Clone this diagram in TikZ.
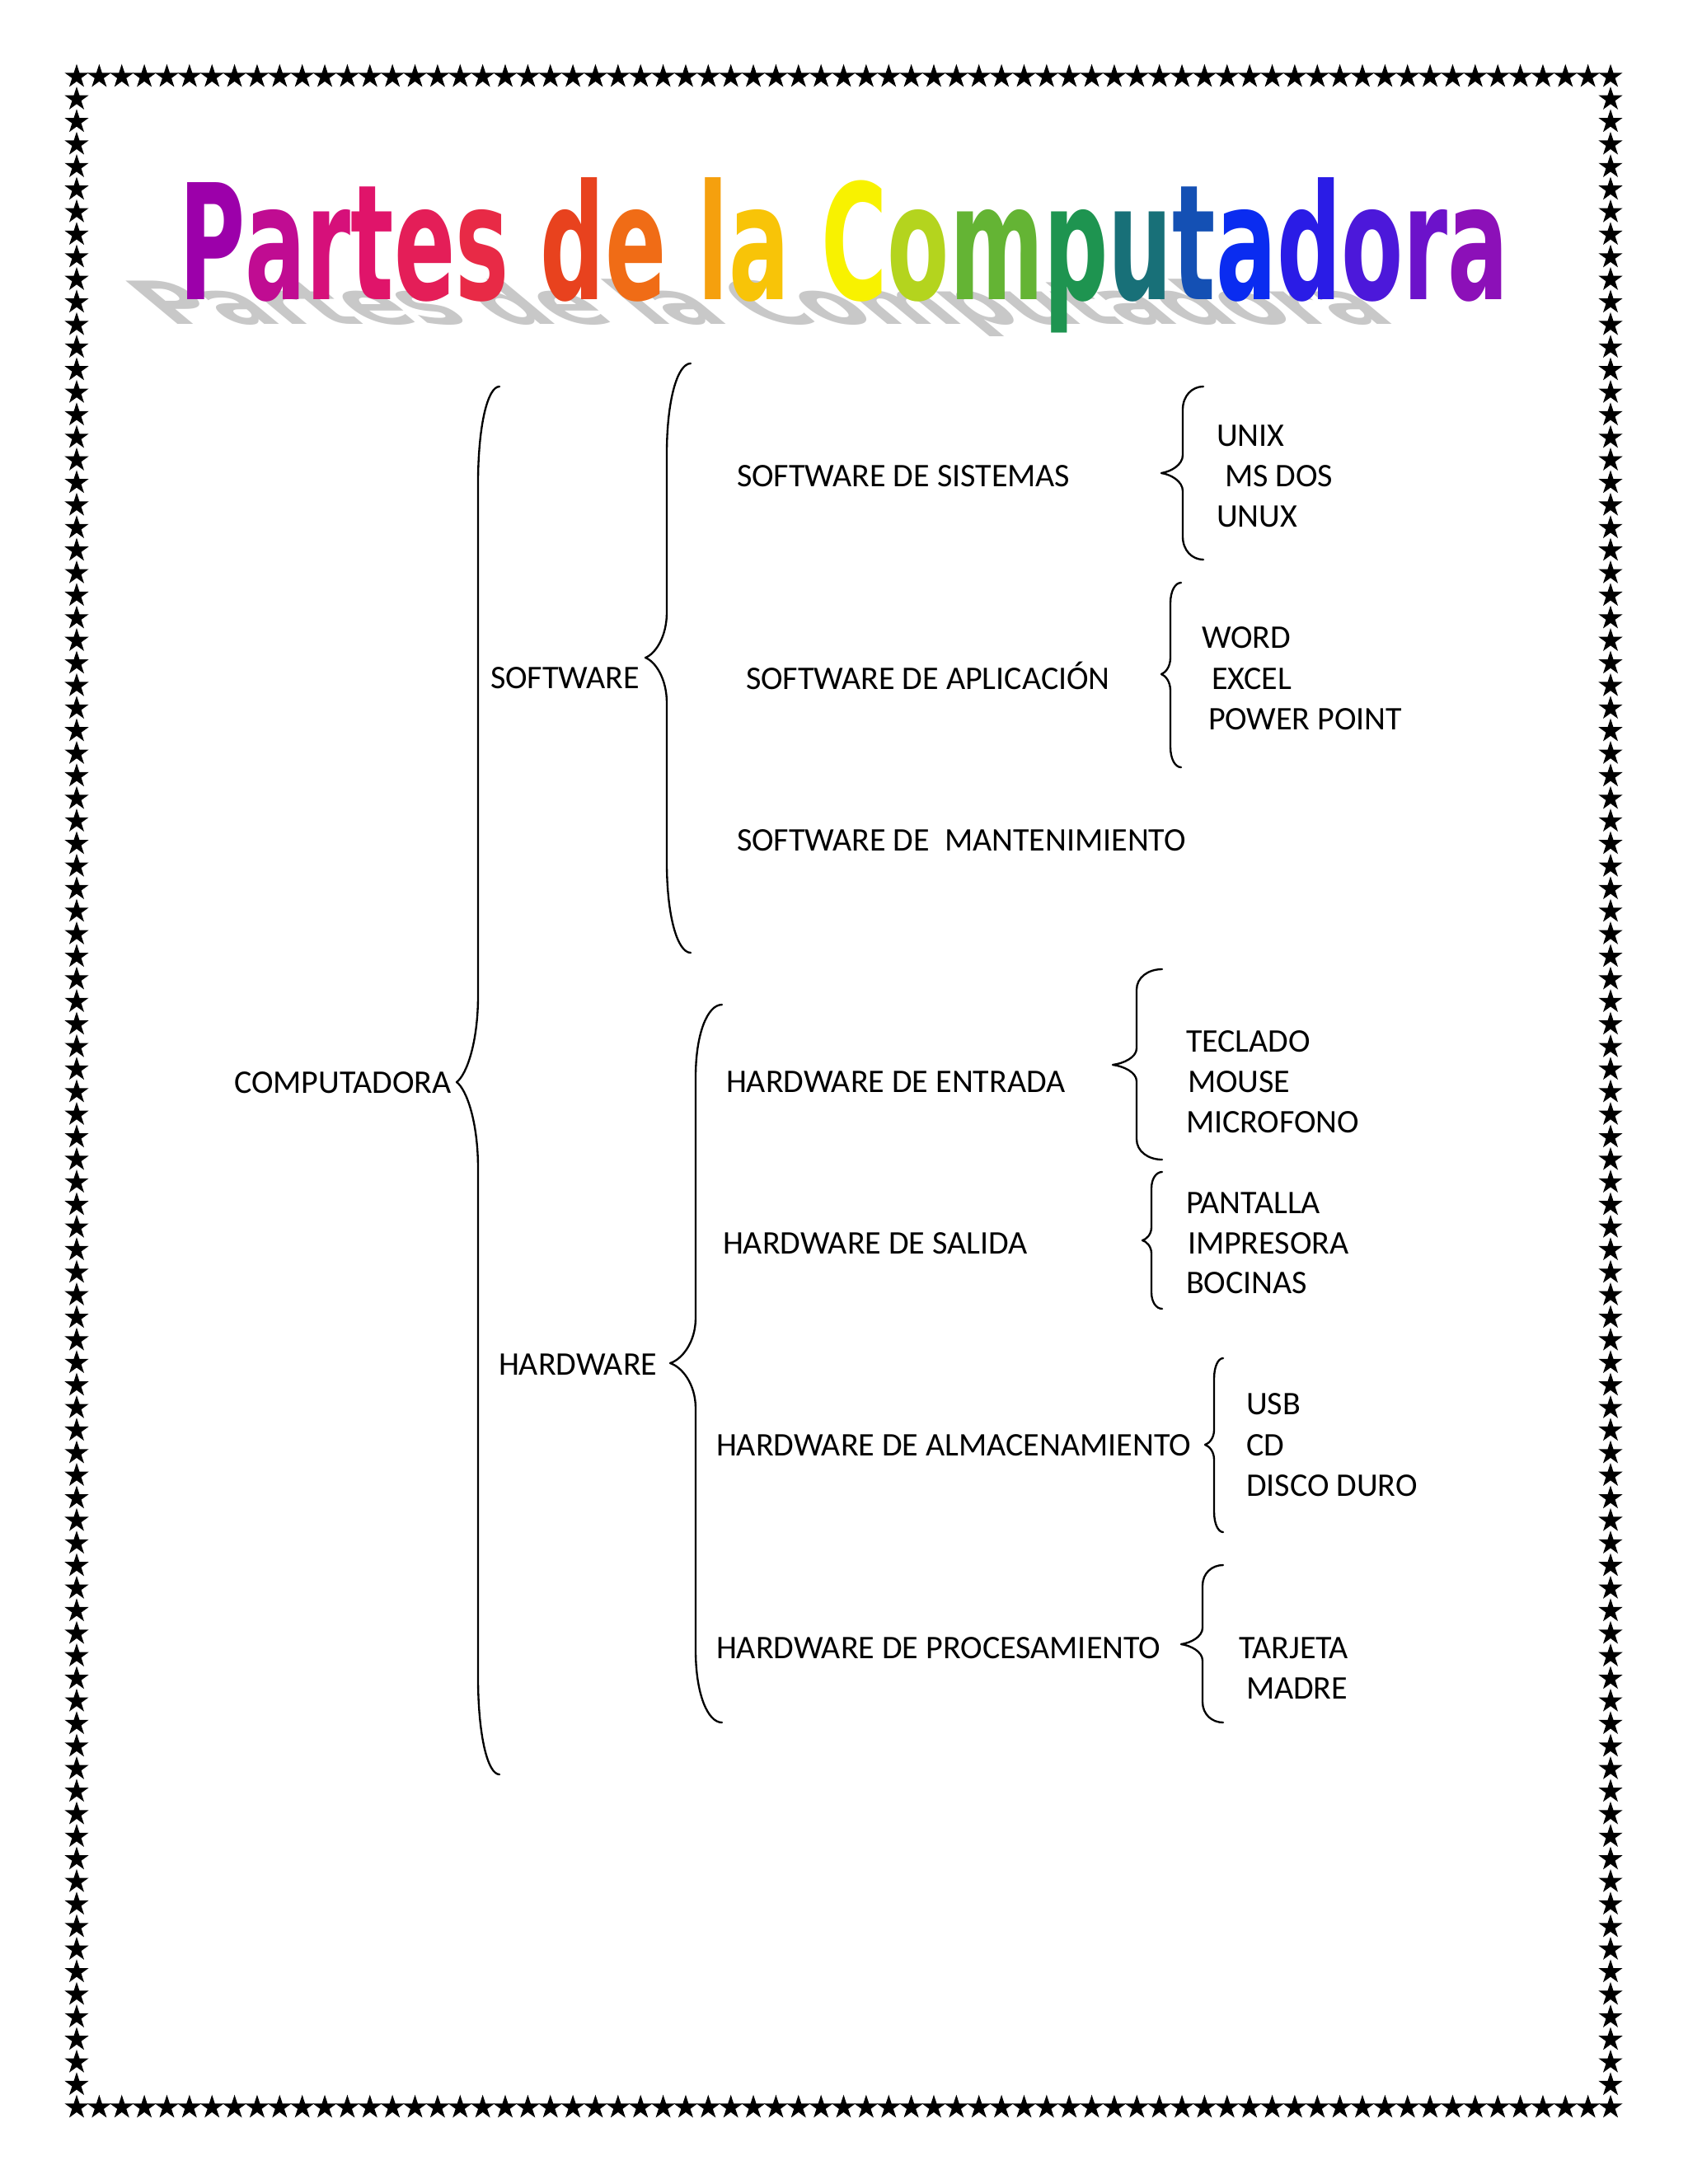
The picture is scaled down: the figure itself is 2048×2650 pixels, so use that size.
\documentclass[tikz,border=0pt]{standalone}
\usepackage{fontspec}
\setmainfont{Carlito}
\newfontfamily\titlefont{DejaVu Sans}
\usetikzlibrary{shapes.geometric}
\definecolor{shadowgray}{HTML}{C8C8C8}
\newcommand\ltr[2]{\textcolor[HTML]{#1}{#2}}
% brace: #1 tip x, #2 top y, #3 line x, #4 point x, #5 point y, #6 bottom y, #7 end radius, #8 middle radius
\newcommand\cbrace[8]{%
  \draw[bracestyle] (#1,-#2) .. controls ({#3+0.45*(#1-#3)},-#2) and (#3,{-(#2+0.4*#7)}) .. (#3,{-(#2+#7)})
    -- (#3,{-(#5-#8)}) .. controls (#3,{-(#5-0.45*#8)}) and ({#4+0.45*(#3-#4)},{-(#5-0.08*#8)}) .. (#4,-#5)
    .. controls ({#4+0.45*(#3-#4)},{-(#5+0.08*#8)}) and (#3,{-(#5+0.45*#8)}) .. (#3,{-(#5+#8)})
    -- (#3,{-(#6-#7)}) .. controls (#3,{-(#6-0.4*#7)}) and ({#3+0.45*(#1-#3)},-#6) .. (#1,-#6);}
\begin{document}
\begin{tikzpicture}[x=0.3pt,y=0.3pt,
  lbl/.style={anchor=base west, inner sep=0pt, outer sep=0pt, font=\fontsize{12}{14}\selectfont},
  bracestyle/.style={line width=0.7pt, line cap=round, line join=round},
  starnode/.style={star, star points=5, star point ratio=2.618, fill=black, draw=none,
                   inner sep=0pt, outer sep=0pt, minimum size=9.2pt}]
\useasboundingbox (0,0) rectangle (2048,-2650);
\fill[white] (0,0) rectangle (2048,-2650);

% star border
\foreach \i in {0,...,68} {
  \node[starnode] (st\i) at ({93+\i*27.368},-93) {};
  \node[starnode] (sb\i) at ({93+\i*27.368},-2557) {};
}
\foreach \j in {1,...,89} {
  \node[starnode] (sl\j) at (93,{-(93+\j*27.378)}) {};
  \node[starnode] (sr\j) at (1954,{-(93+\j*27.378)}) {};
}

% title shadow
\begin{scope}[shift={(206,-393)}, xslant=-1.2, yscale=0.37]
  \node[anchor=base west, inner sep=0pt, transform shape, text=shadowgray] (shadow) at (0,0)
    {\resizebox{447pt}{44.4pt}{\titlefont\bfseries Partes de la Computadora}};
\end{scope}

% title
\node[anchor=base west, inner sep=0pt] (title) at (217,-363)
  {\resizebox{483.9pt}{44.4pt}{\titlefont\bfseries
   \ltr{9C00AA}{P}\ltr{C00C92}{a}\ltr{D6107A}{r}\ltr{E0146A}{t}\ltr{E41E58}{e}\ltr{E82A46}{s} \ltr{E8421E}{d}\ltr{F06C16}{e} \ltr{F5A00E}{l}\ltr{F8C408}{a} \ltr{F8F200}{C}\ltr{B4D41E}{o}\ltr{64B434}{m}\ltr{1E9450}{p}\ltr{187078}{u}\ltr{1450B4}{t}\ltr{0A2CF0}{a}\ltr{2A1CE6}{d}\ltr{4C18DA}{o}\ltr{6C12CA}{r}\ltr{8C10B8}{a}}};

% labels
\node[lbl] (comp) at (284,-1326) {COMPUTADORA};
\node[lbl] (sw) at (595,-835) {SOFTWARE};
\node[lbl] (hw) at (605,-1668) {HARDWARE};
\node[lbl] (sws) at (894,-590) {SOFTWARE DE SISTEMAS};
\node[lbl] (swa) at (905,-836) {SOFTWARE DE APLICACIÓN};
\node[lbl] (swm) at (894,-1032) {SOFTWARE DE\ \ MANTENIMIENTO};
\node[lbl] (hwe) at (881,-1325) {HARDWARE DE ENTRADA};
\node[lbl] (hws) at (877,-1521) {HARDWARE DE SALIDA};
\node[lbl] (hwa) at (869,-1766) {HARDWARE DE ALMACENAMIENTO};
\node[lbl] (hwp) at (869,-2012) {HARDWARE DE PROCESAMIENTO};
\node[lbl] (unix) at (1476,-541) {UNIX};
\node[lbl] (msdos) at (1486,-590) {MS DOS};
\node[lbl] (unux) at (1476,-639) {UNUX};
\node[lbl] (word) at (1458,-786) {WORD};
\node[lbl] (excel) at (1470,-836) {EXCEL};
\node[lbl] (ppt) at (1466,-885) {POWER POINT};
\node[lbl] (teclado) at (1439,-1276) {TECLADO};
\node[lbl] (mouse) at (1441,-1325) {MOUSE};
\node[lbl] (micro) at (1439,-1374) {MICROFONO};
\node[lbl] (pantalla) at (1439,-1472) {PANTALLA};
\node[lbl] (impresora) at (1441,-1521) {IMPRESORA};
\node[lbl] (bocinas) at (1439,-1569) {BOCINAS};
\node[lbl] (usb) at (1512,-1716) {USB};
\node[lbl] (cd) at (1512,-1766) {CD};
\node[lbl] (disco) at (1512,-1815) {DISCO DURO};
\node[lbl] (tarjeta) at (1503,-2012) {TARJETA};
\node[lbl] (madre) at (1512,-2061) {MADRE};

% braces
\cbrace{606}{469}{580}{554}{1313}{2153}{118}{105}
\cbrace{838}{441}{809}{783}{798}{1156}{110}{55}
\cbrace{876}{1219}{844}{813}{1654}{2090}{88}{55}
\cbrace{1460}{469}{1435}{1409}{574}{679}{28}{22}
\cbrace{1433}{707}{1420}{1409}{818}{931}{25}{20}
\cbrace{1410}{1176}{1379}{1350}{1292}{1407}{25}{20}
\cbrace{1410}{1422}{1397}{1386}{1505}{1588}{20}{16}
\cbrace{1484}{1648}{1473}{1462}{1753}{1859}{25}{18}
\cbrace{1484}{1899}{1459}{1433}{1995}{2090}{25}{20}
\end{tikzpicture}
\end{document}
